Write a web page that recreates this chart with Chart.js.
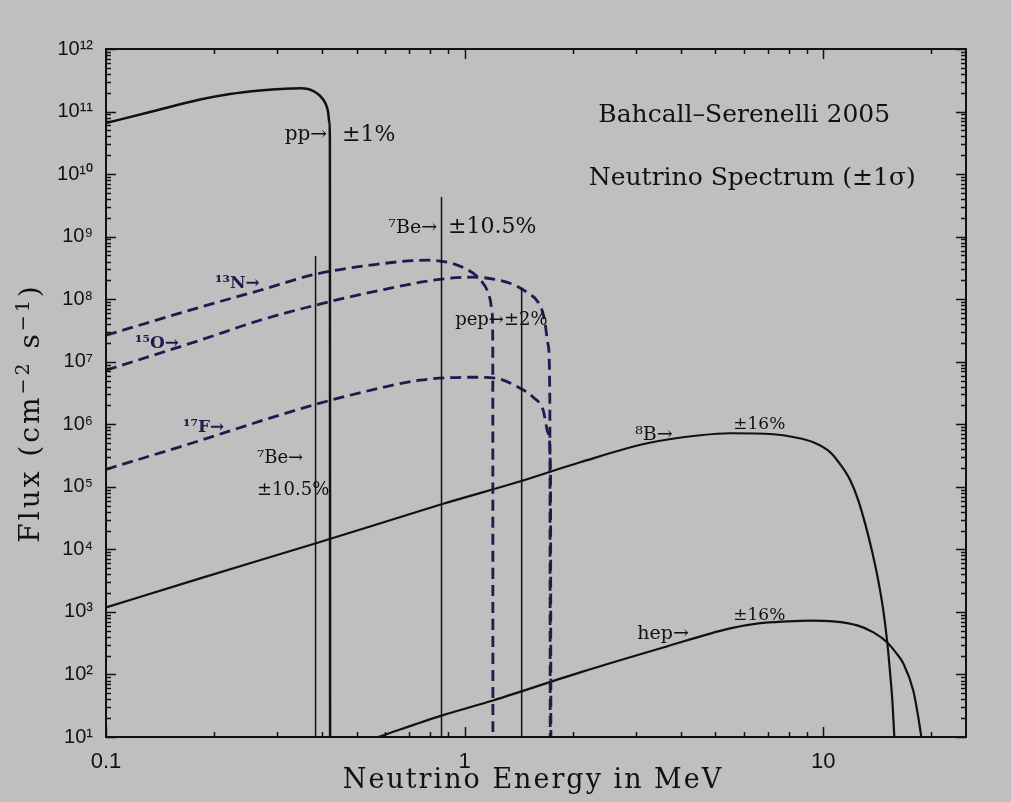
<!DOCTYPE html>
<html>
<head>
<meta charset="utf-8">
<script src="https://cdn.jsdelivr.net/npm/chart.js@4.4.1/dist/chart.umd.min.js"></script>
<style>
  html, body { margin: 0; padding: 0; background: #bfbfbf; }
</style>
</head>
<body>
<canvas id="chart" width="1011" height="802"></canvas>
<script>
// energies in MeV, fluxes in cm^-2 s^-1 MeV^-1 (lines in cm^-2 s^-1)
const ppE = [0.1, 0.1327, 0.183, 0.2218, 0.269, 0.3157, 0.3476, 0.366, 0.3804, 0.3929, 0.4031, 0.411, 0.4162, 0.4194, 0.421, 0.4215];
const ppFlux = [6.55e10, 9.82e10, 1.556e11, 1.905e11, 2.17e11, 2.32e11, 2.36e11, 2.29e11, 2.09e11, 1.84e11, 1.556e11, 1.27e11, 9.82e10, 6.79e10, 3.5e10, 10];

const n13E = [0.1, 0.183, 0.269, 0.383, 0.545, 0.786, 0.894, 0.98, 1.056, 1.11, 1.156, 1.18, 1.193, 1.198, 1.199];
const n13Flux = [2.65e7, 7.45e7, 1.39e8, 2.5e8, 3.5e8, 4.2e8, 3.9e8, 3.3e8, 2.6e8, 2.0e8, 1.39e8, 9.5e7, 6.0e7, 1.84e7, 10];

const o15E = [0.1, 0.183, 0.269, 0.383, 0.581, 0.862, 1.056, 1.256, 1.383, 1.503, 1.603, 1.667, 1.710, 1.728, 1.732];
const o15Flux = [7.3e6, 2.21e7, 4.6e7, 8.0e7, 1.39e8, 2.09e8, 2.25e8, 2.0e8, 1.67e8, 1.25e8, 8.95e7, 4.97e7, 1.84e7, 2.4e6, 10];

const f17E = [0.1, 0.183, 0.269, 0.385, 0.479, 0.751, 1.035, 1.217, 1.428, 1.553, 1.656, 1.710, 1.735, 1.740];
const f17Flux = [1.9e5, 5.5e5, 1.12e6, 2.09e6, 2.91e6, 5.06e6, 5.65e6, 5.45e6, 3.77e6, 2.7e6, 1.67e6, 7.2e5, 1.84e5, 10];

const b8E = [0.1, 0.183, 0.385, 0.862, 1.4, 2.10, 3.23, 4.54, 5.50, 7.25, 8.3, 9.38, 10.46, 11.15, 11.89, 12.52, 13.10, 13.70, 14.23, 14.70, 15.08, 15.38, 15.58, 15.78];
const b8Flux = [1.18e3, 3.44e3, 1.25e4, 5.25e4, 1.18e5, 2.47e5, 4.97e5, 6.67e5, 7.18e5, 6.92e5, 6.2e5, 5.15e5, 3.56e5, 2.29e5, 1.27e5, 6.08e4, 2.51e4, 8.95e3, 3.19e3, 1.06e3, 325, 96, 38.4, 10];

const hepE = [0.574, 0.862, 1.20, 2.10, 3.58, 5.50, 6.6, 7.94, 9.2, 10.66, 12.44, 13.8, 15.08, 16.0, 16.72, 17.82, 18.41, 18.77];
const hepFlux = [10, 22, 38.4, 108, 270, 545, 655, 705, 725, 705, 608, 470, 325, 217, 150, 55.5, 20.5, 10];

// monoenergetic lines: energy and line flux
const be7LowE = [0.384, 0.384], be7LowFlux = [10, 4.9e8];
const be7HighE = [0.862, 0.862], be7HighFlux = [10, 4.3e9];
const pepE = [1.442, 1.442], pepFlux = [10, 1.5e8];

const xTickValues = [0.1, 0.2, 0.3, 0.4, 0.5, 0.6, 0.7, 0.8, 0.9, 1, 2, 3, 4, 5, 6, 7, 8, 9, 10, 20];
const xTickLabels = ['0.1', '', '', '', '', '', '', '', '', '1', '', '', '', '', '', '', '', '', '10', ''];

const yTickValues = [];
const yTickLabels = [];
const sup = ['⁰', '¹', '²', '³', '⁴', '⁵', '⁶', '⁷', '⁸', '⁹'];
for (let p = 1; p <= 12; p++) {
  for (let d = 1; d <= (p === 12 ? 1 : 9); d++) {
    yTickValues.push(d * Math.pow(10, p));
    yTickLabels.push(d === 1 ? '10' + String(p).split('').map(c => sup[+c]).join('') : '');
  }
}

const xTitle = 'Neutrino Energy in MeV';
// y title pieces: [text, superscript?]
const yTitle = [['Flux (cm', false], ['−2', true], [' s', false], ['−1', true], [')', false]];

// text notes placed in data units (energy, flux)
const notes = [
  {text: 'Bahcall–Serenelli 2005', x: 6.02, y: 6.8e10, align: 'center', size: 25},
  {text: 'Neutrino Spectrum (±1σ)', x: 6.34, y: 6.67e9, align: 'center', size: 25},
  {text: 'pp→', x: 0.4135, y: 3.5e10, align: 'right', size: 20},
  {text: '±1%', x: 0.455, y: 3.4e10, align: 'left', size: 22},
  {text: '⁷Be→', x: 0.838, y: 1.14e9, align: 'right', size: 19},
  {text: '±10.5%', x: 0.899, y: 1.14e9, align: 'left', size: 22},
  {text: 'pep→±2%', x: 0.941, y: 3.84e7, align: 'left', size: 18},
  {text: '¹³N→', x: 0.2014, y: 1.5e8, align: 'left', size: 17, color: '#1c1c50', bold: true},
  {text: '¹⁵O→', x: 0.1205, y: 1.64e7, align: 'left', size: 17, color: '#1c1c50', bold: true},
  {text: '¹⁷F→', x: 0.164, y: 7.45e5, align: 'left', size: 17, color: '#1c1c50', bold: true},
  {text: '⁷Be→', x: 0.2637, y: 2.38e5, align: 'left', size: 18},
  {text: '±10.5%', x: 0.2637, y: 7.3e4, align: 'left', size: 18},
  {text: '⁸B→', x: 2.99, y: 5.55e5, align: 'left', size: 19},
  {text: '±16%', x: 5.61, y: 8.3e5, align: 'left', size: 17},
  {text: 'hep→', x: 3.03, y: 363, align: 'left', size: 19},
  {text: '±16%', x: 5.61, y: 731, align: 'left', size: 17},
];

const pts = (xs, ys) => xs.map((x, i) => ({x, y: ys[i]}));
const NAVY = '#1c1c4e';

function series(label, xs, ys, color, width, dashed) {
  return {
    label,
    data: pts(xs, ys),
    borderColor: color,
    borderWidth: width,
    borderDash: dashed ? [11, 6] : [],
    pointRadius: 0,
    cubicInterpolationMode: 'monotone',
    fill: false,
  };
}

const framePlugin = {
  id: 'frame',
  afterDraw(chart) {
    const {ctx, chartArea: a, scales: {x, y}} = chart;
    ctx.save();
    ctx.strokeStyle = '#111';
    ctx.lineWidth = 2;
    ctx.strokeRect(a.left, a.top, a.right - a.left, a.bottom - a.top);
    ctx.lineWidth = 1.5;
    const seg = (x1, y1, x2, y2) => {
      ctx.beginPath(); ctx.moveTo(x1, y1); ctx.lineTo(x2, y2); ctx.stroke();
    };
    x.ticks.forEach((t, i) => {
      const px = Math.round(x.getPixelForValue(t.value)) + 0.5;
      const len = xTickLabels[i] ? 10 : 5;
      seg(px, a.bottom, px, a.bottom - len);
      seg(px, a.top, px, a.top + len);
    });
    y.ticks.forEach((t, i) => {
      const py = Math.round(y.getPixelForValue(t.value)) + 0.5;
      const len = yTickLabels[i] ? 10 : 5;
      seg(a.left, py, a.left + len, py);
      seg(a.right, py, a.right - len, py);
    });
    ctx.restore();
  }
};

const notesPlugin = {
  id: 'notes',
  afterDraw(chart) {
    const {ctx, chartArea: a, scales: {x, y}} = chart;
    ctx.save();
    ctx.textBaseline = 'alphabetic';
    notes.forEach(n => {
      ctx.font = (n.bold ? 'bold ' : '') + n.size + 'px "DejaVu Serif"';
      ctx.fillStyle = n.color || '#111';
      ctx.textAlign = n.align;
      ctx.fillText(n.text, x.getPixelForValue(n.x), y.getPixelForValue(n.y));
    });

    // axis titles, a little wider spaced like the original
    ctx.fillStyle = '#111';
    ctx.letterSpacing = '2px';
    ctx.font = '27px "DejaVu Serif"';
    ctx.textAlign = 'center';
    ctx.fillText(xTitle, (a.left + a.right) / 2 - 3, a.bottom + 51);

    ctx.letterSpacing = '3px';
    const big = '28px "DejaVu Serif"', small = '19px "DejaVu Serif"';
    const widths = yTitle.map(([t, s]) => { ctx.font = s ? small : big; return ctx.measureText(t).width; });
    const total = widths.reduce((s, w) => s + w, 0);
    ctx.translate(39, (a.top + a.bottom) / 2 + 20);
    ctx.rotate(-Math.PI / 2);
    ctx.textAlign = 'left';
    let cx = -total / 2;
    yTitle.forEach(([t, s], i) => {
      ctx.font = s ? small : big;
      ctx.fillText(t, cx, s ? -10 : 0);
      cx += widths[i];
    });
    ctx.restore();
  }
};

new Chart(document.getElementById('chart'), {
  type: 'line',
  data: {
    datasets: [
      series('pp', ppE, ppFlux, '#111', 2.5, false),
      series('7Be 0.384', be7LowE, be7LowFlux, '#111', 1.5, false),
      series('7Be 0.862', be7HighE, be7HighFlux, '#111', 1.5, false),
      series('pep', pepE, pepFlux, '#111', 1.5, false),
      series('13N', n13E, n13Flux, NAVY, 2.8, true),
      series('15O', o15E, o15Flux, NAVY, 2.8, true),
      series('17F', f17E, f17Flux, NAVY, 2.8, true),
      series('8B', b8E, b8Flux, '#111', 2.2, false),
      series('hep', hepE, hepFlux, '#111', 2.2, false),
    ]
  },
  options: {
    responsive: false,
    animation: false,
    devicePixelRatio: 1,
    layout: {padding: {left: 0, top: 49, right: 45, bottom: 0}},
    plugins: {legend: {display: false}, tooltip: {enabled: false}},
    scales: {
      x: {
        type: 'logarithmic',
        min: 0.1,
        max: 25,
        afterBuildTicks: s => { s.ticks = xTickValues.map(v => ({value: v})); },
        afterFit: s => { s.height = 65; },
        grid: {display: false},
        border: {display: false},
        ticks: {
          autoSkip: false,
          maxRotation: 0,
          padding: 4,
          color: '#111',
          font: {family: 'Liberation Sans', size: 22},
          callback: (v, i) => xTickLabels[i],
        },
      },
      y: {
        type: 'logarithmic',
        min: 10,
        max: 1e12,
        afterBuildTicks: s => { s.ticks = yTickValues.map(v => ({value: v})); },
        afterFit: s => { s.width = 106; },
        grid: {display: false},
        border: {display: false},
        ticks: {
          autoSkip: false,
          padding: 5,
          color: '#111',
          font: {family: 'Liberation Sans', size: 20},
          callback: (v, i) => yTickLabels[i],
        },
      },
    },
  },
  plugins: [framePlugin, notesPlugin],
});
</script>
</body>
</html>
